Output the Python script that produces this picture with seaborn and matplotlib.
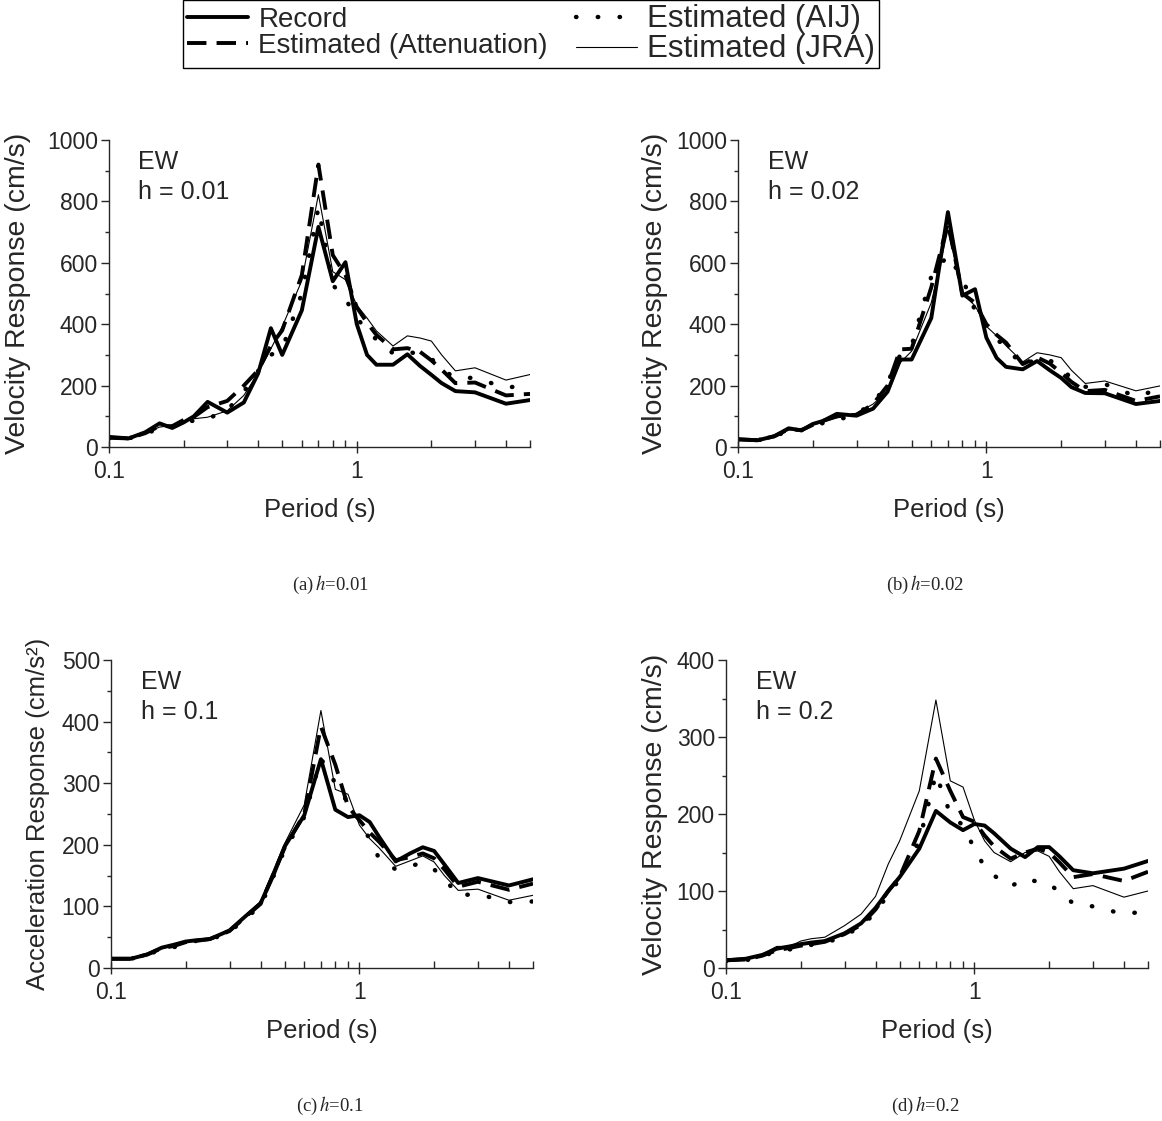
import numpy as np
import pandas as pd
import matplotlib
matplotlib.use("Agg")
import matplotlib.pyplot as plt
import matplotlib.ticker as ticker
import seaborn as sns

# periodos (s)
period = [0.1, 0.12, 0.14, 0.16, 0.18, 0.2, 0.22, 0.25, 0.3, 0.35, 0.4, 0.45, 0.5, 0.6, 0.7,
          0.8, 0.9, 1.0, 1.1, 1.2, 1.4, 1.6, 1.8, 2.0, 2.2, 2.5, 3.0, 4.0, 5.0]

# (a) h=0.01  velocity
rec_a = [33, 28, 48, 77, 62, 80, 100, 147, 112, 145, 240, 387, 300, 445, 717, 540, 602, 400, 300, 268, 268, 302, 264, 235, 208, 182, 178, 141, 153]
att_a = [30, 28, 45, 68, 68, 88, 98, 130, 150, 200, 250, 330, 380, 560, 920, 625, 560, 455, 405, 365, 318, 322, 310, 282, 252, 208, 210, 168, 173]
aij_a = [28, 28, 42, 62, 66, 90, 84, 92, 120, 180, 248, 300, 320, 500, 780, 528, 482, 420, 380, 350, 305, 312, 300, 288, 252, 226, 225, 193, 203]
jra_a = [30, 28, 45, 65, 70, 85, 92, 97, 118, 168, 240, 320, 392, 542, 822, 571, 545, 462, 420, 378, 329, 362, 355, 345, 300, 248, 258, 218, 236]

# (b) h=0.02  velocity
rec_b = [25, 22, 35, 61, 54, 75, 85, 108, 102, 125, 180, 285, 285, 420, 765, 493, 514, 356, 290, 261, 253, 280, 250, 225, 195, 176, 175, 140, 150]
att_b = [25, 22, 35, 58, 55, 72, 85, 100, 105, 140, 200, 318, 320, 520, 730, 500, 470, 400, 365, 340, 270, 292, 272, 242, 212, 182, 186, 150, 165]
aij_b = [25, 22, 33, 55, 55, 70, 78, 86, 110, 140, 210, 300, 330, 555, 625, 550, 445, 390, 350, 328, 262, 290, 282, 260, 222, 196, 205, 165, 188]
jra_b = [25, 22, 35, 55, 58, 72, 82, 95, 110, 140, 182, 275, 312, 470, 708, 500, 460, 393, 362, 330, 277, 307, 300, 291, 250, 207, 215, 183, 199]

# (c) h=0.1  acceleration
rec_c = [15, 15, 22, 33, 38, 43, 45, 47, 61, 85, 105, 150, 197, 248, 339, 257, 245, 248, 237, 213, 173, 186, 196, 190, 168, 138, 146, 134, 144]
att_c = [15, 15, 22, 32, 36, 42, 44, 47, 60, 84, 104, 152, 195, 250, 392, 330, 262, 240, 220, 205, 175, 180, 186, 178, 160, 132, 140, 127, 137]
aij_c = [15, 15, 21, 31, 34, 40, 44, 46, 58, 82, 100, 148, 192, 245, 340, 300, 268, 240, 209, 178, 160, 166, 170, 160, 145, 118, 120, 107, 108]
jra_c = [15, 15, 22, 33, 38, 43, 45, 48, 62, 86, 108, 158, 202, 265, 418, 290, 282, 232, 210, 195, 165, 174, 182, 172, 150, 126, 128, 110, 118]

# (d) h=0.2  velocity
rec_d = [10, 12, 17, 25, 28, 31, 33, 35, 45, 58, 78, 100, 118, 155, 204, 189, 179, 187, 185, 175, 155, 144, 157, 157, 145, 127, 123, 129, 139]
att_d = [10, 11, 16, 23, 26, 29, 31, 34, 44, 56, 76, 100, 118, 178, 272, 230, 196, 190, 172, 158, 142, 150, 155, 150, 137, 118, 122, 113, 125]
aij_d = [9, 10, 15, 22, 24, 28, 30, 32, 42, 54, 72, 96, 115, 165, 252, 200, 185, 155, 131, 120, 106, 116, 112, 110, 98, 84, 80, 70, 74]
jra_d = [12, 13, 18, 28, 28, 35, 38, 40, 55, 70, 93, 135, 165, 230, 348, 243, 235, 192, 165, 150, 138, 150, 152, 145, 125, 103, 107, 92, 100]

series_names = ["Record", "Estimated (Attenuation)", "Estimated (AIJ)", "Estimated (JRA)"]
damping = ["0.01", "0.02", "0.1", "0.2"]
captions = ["(a)", "(b)", "(c)", "(d)"]
ylabels = ["Velocity Response (cm/s)", "Velocity Response (cm/s)",
           "Acceleration Response (cm/s²)", "Velocity Response (cm/s)"]
ylab_size = [20.5, 20.5, 18.5, 20.5]
ymax = [1000, 1000, 500, 400]
ystep = [200, 200, 100, 100]

sns.set_style("ticks")
plt.rcParams.update({
    'font.family': ['Liberation Sans', 'DejaVu Sans'],
    'mathtext.fontset': 'stix',
    'axes.linewidth': 1.0,
})

W, H = 1162, 1121
fig = plt.figure(figsize=(W / 100, H / 100), dpi=100)

def px_rect(l, t, r, b):
    return [l / W, 1 - b / H, (r - l) / W, (b - t) / H]

# cajas de los ejes en pixeles
boxes = [(109, 140, 530, 447), (738, 140, 1160, 447),
         (111, 660, 533, 968), (726, 660, 1148, 968)]
ylab_x = [18, 655, 38, 655]
cap_x = [330, 925, 330, 925]

styles = [
    dict(color='black', lw=2.8, linestyle='-'),
    dict(color='black', lw=2.8, linestyle=(0, (5, 2.6)), dash_capstyle='butt'),
    dict(color='black', lw=3.2, linestyle=(0, (0.1, 4.8)), dash_capstyle='round'),
    dict(color='black', lw=0.8, linestyle='-'),
]

panels = [(rec_a, att_a, aij_a, jra_a), (rec_b, att_b, aij_b, jra_b),
          (rec_c, att_c, aij_c, jra_c), (rec_d, att_d, aij_d, jra_d)]

axes = []
for i, data in enumerate(panels):
    l, t, r, b = boxes[i]
    ax = fig.add_axes(px_rect(l, t, r, b))
    axes.append(ax)
    for name, vals, st in zip(series_names, data, styles):
        sns.lineplot(x=period, y=vals, ax=ax, label=name, estimator=None, sort=False, **st)
    ax.set_xscale('log')
    ax.set_xlim(0.1, 5)
    ax.set_ylim(0, ymax[i])
    ax.xaxis.set_major_locator(ticker.FixedLocator([0.1, 1]))
    ax.xaxis.set_major_formatter(ticker.FixedFormatter(["0.1", "1"]))
    ax.xaxis.set_minor_locator(ticker.LogLocator(base=10, subs=np.arange(2, 10)))
    ax.xaxis.set_minor_formatter(ticker.NullFormatter())
    ax.yaxis.set_major_locator(ticker.MultipleLocator(ystep[i]))
    ax.yaxis.set_minor_locator(ticker.MultipleLocator(ystep[i] / 2))
    ax.tick_params(axis='x', which='major', direction='inout', length=9, width=1, labelsize=16.5, pad=5)
    ax.tick_params(axis='x', which='minor', direction='in', length=5, width=1)
    ax.tick_params(axis='y', which='major', direction='out', length=6, width=1, labelsize=16.5, pad=2)
    ax.tick_params(axis='y', which='minor', direction='out', length=3, width=1)
    ax.spines['top'].set_visible(False)
    ax.spines['right'].set_visible(False)
    ax.get_legend().remove()

    ax.set_ylabel(ylabels[i], fontsize=ylab_size[i], va='center')
    ax.yaxis.set_label_coords((ylab_x[i] - l) / (r - l), 0.5)
    ax.set_xlabel("Period (s)", fontsize=18.5, va='center')
    ax.xaxis.set_label_coords(0.5, -63 / (b - t))

    ax.text(0.07, 1 - 10 / (b - t), "EW", transform=ax.transAxes, fontsize=18, va='top', ha='left')
    ax.text(0.07, 1 - 40 / (b - t), "h = " + damping[i], transform=ax.transAxes, fontsize=18,
            va='top', ha='left')

    fig.text(cap_x[i] / W, 1 - (b + 138) / H, captions[i] + r"$\,\mathit{h}$=" + damping[i],
             family='Liberation Serif', fontsize=13.5, ha='center', va='center')

handles, labels = axes[0].get_legend_handles_labels()
leg = fig.legend(handles, labels, ncol=2, loc='upper left', bbox_to_anchor=(183 / W, 1.0),
                 frameon=True, fancybox=False, edgecolor='black', framealpha=1,
                 prop={'size': 20},
                 handlelength=2.2, handletextpad=0.36, columnspacing=1.0,
                 labelspacing=0.0, borderpad=0.15, borderaxespad=0)
leg.get_frame().set_linewidth(1.0)
for txt in leg.get_texts()[2:]:
    txt.set_fontsize(22.5)

fig.savefig("out.png", dpi=100)
